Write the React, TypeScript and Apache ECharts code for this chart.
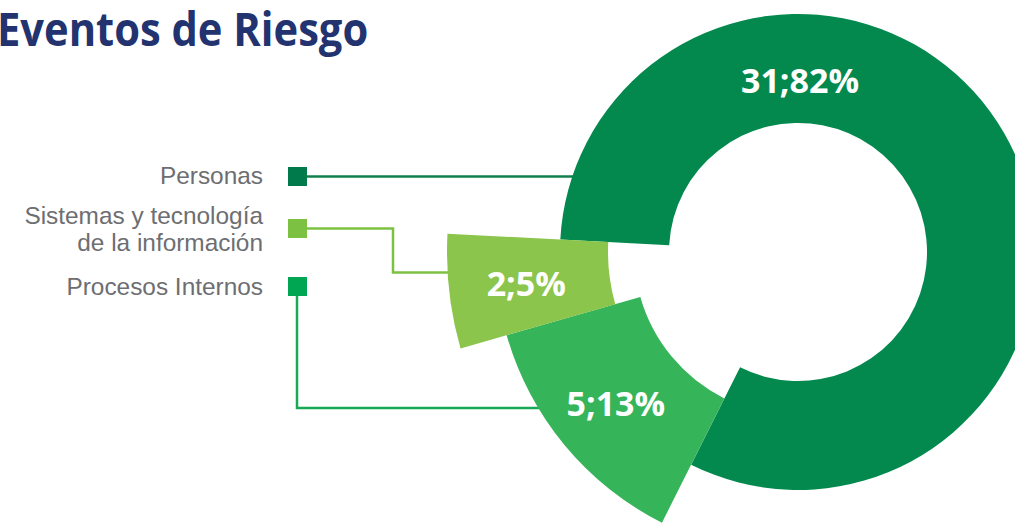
import React, { useEffect, useRef } from "react";
import * as echarts from "echarts";

// Data (clockwise order starting at the left)
const categories = ["Personas", "Procesos Internos", "Sistemas y tecnología de la información"];
const values = [31, 5, 2];
const sliceColors = ["#03894E", "#36B45A", "#8CC54B"];

// Legend (top to bottom)
const legendNames = ["Personas", "Sistemas y tecnología de la información", "Procesos Internos"];
const legendTextLines = [["Personas"], ["Sistemas y tecnología", "de la información"], ["Procesos Internos"]];
const legendColors = ["#007A4A", "#7DC143", "#00A651"];
const lineColors = ["#0F7F4C", "#7DC143", "#17A955"];

const titleText = "Eventos de Riesgo";

export default function App() {
  const ref = useRef<HTMLDivElement>(null);

  useEffect(() => {
    if (!ref.current) return;
    const chart = echarts.init(ref.current, undefined, { renderer: "svg" });
    const total = values.reduce((a, b) => a + b, 0);
    const center = [798, 252];
    const radii: Record<string, [number, number]> = {
      "Personas": [129, 238],
      "Procesos Internos": [164, 303],
      "Sistemas y tecnología de la información": [190, 351],
    };
    const labelFont = {
      color: "#ffffff",
      fontFamily: "Open Sans",
      fontWeight: "bold" as const,
      fontSize: 34,
    };

    const series = categories.map((cat, i) => ({
      type: "pie" as const,
      name: cat,
      center,
      radius: radii[cat],
      startAngle: 177,
      clockwise: true,
      silent: true,
      avoidLabelOverlap: false,
      z: 2 + i,
      label: { show: false },
      labelLine: { show: false },
      data: categories.map((n, j) => ({
        name: n,
        value: values[j],
        itemStyle: {
          color: j === i ? sliceColors[j] : "rgba(0,0,0,0)",
          borderWidth: 0,
        },
        label: {
          show: j === i && j !== 0,
          position: "inside" as const,
          formatter: (p: any) => `${p.value};${Math.round(p.percent)}%`,
          ...labelFont,
        },
      })),
    }));

    const legendY = [176.5, 228.5, 286.5];
    const textY = [[175], [215, 242], [286.5]];
    const graphics: any[] = [];

    // title
    graphics.push({
      type: "text",
      x: -3,
      y: 28.5,
      scaleX: 0.887,
      style: {
        text: titleText,
        fill: "#22336F",
        font: "bold 47px 'Open Sans'",
        textAlign: "left",
        textVerticalAlign: "middle",
      },
      z: 10,
    });

    // connector lines
    const linePoints = [
      [[307, 176.5], [580, 176.5]],
      [[307, 228.5], [393, 228.5], [393, 272.5], [455, 272.5]],
      [[297, 296], [297, 408], [545, 408]],
    ];
    linePoints.forEach((pts, i) => {
      graphics.push({
        type: "polyline",
        shape: { points: pts },
        style: { stroke: lineColors[i], lineWidth: 2.5, fill: null },
        z: 0,
        zlevel: 0,
      });
    });

    legendNames.forEach((name, i) => {
      graphics.push({
        type: "rect",
        shape: { x: 288, y: legendY[i] - 9.5, width: 19, height: 19 },
        style: { fill: legendColors[i] },
        z: 10,
      });
      legendTextLines[i].forEach((t, k) => {
        graphics.push({
          type: "text",
          x: 263,
          y: textY[i][k],
          style: {
            text: t,
            fill: "#6D6E71",
            font: "24.4px 'Liberation Sans'",
            textAlign: "right",
            textVerticalAlign: "middle",
          },
          z: 10,
        });
      });
    });

    // Personas label (top of the ring)
    graphics.push({
      type: "text",
      x: 800,
      y: 80,
      style: {
        text: `${values[0]};${Math.round((values[0] / total) * 100)}%`,
        fill: "#ffffff",
        font: "bold 34px 'Open Sans'",
        textAlign: "center",
        textVerticalAlign: "middle",
      },
      z: 100,
      zlevel: 1,
    });

    chart.setOption({
      animation: false,
      backgroundColor: "#ffffff",
      series,
      graphic: { elements: graphics },
    });

    return () => chart.dispose();
  }, []);

  return (
    <div
      ref={ref}
      style={{ position: "fixed", left: 0, top: 0, width: 1015, height: 525 }}
    />
  );
}
